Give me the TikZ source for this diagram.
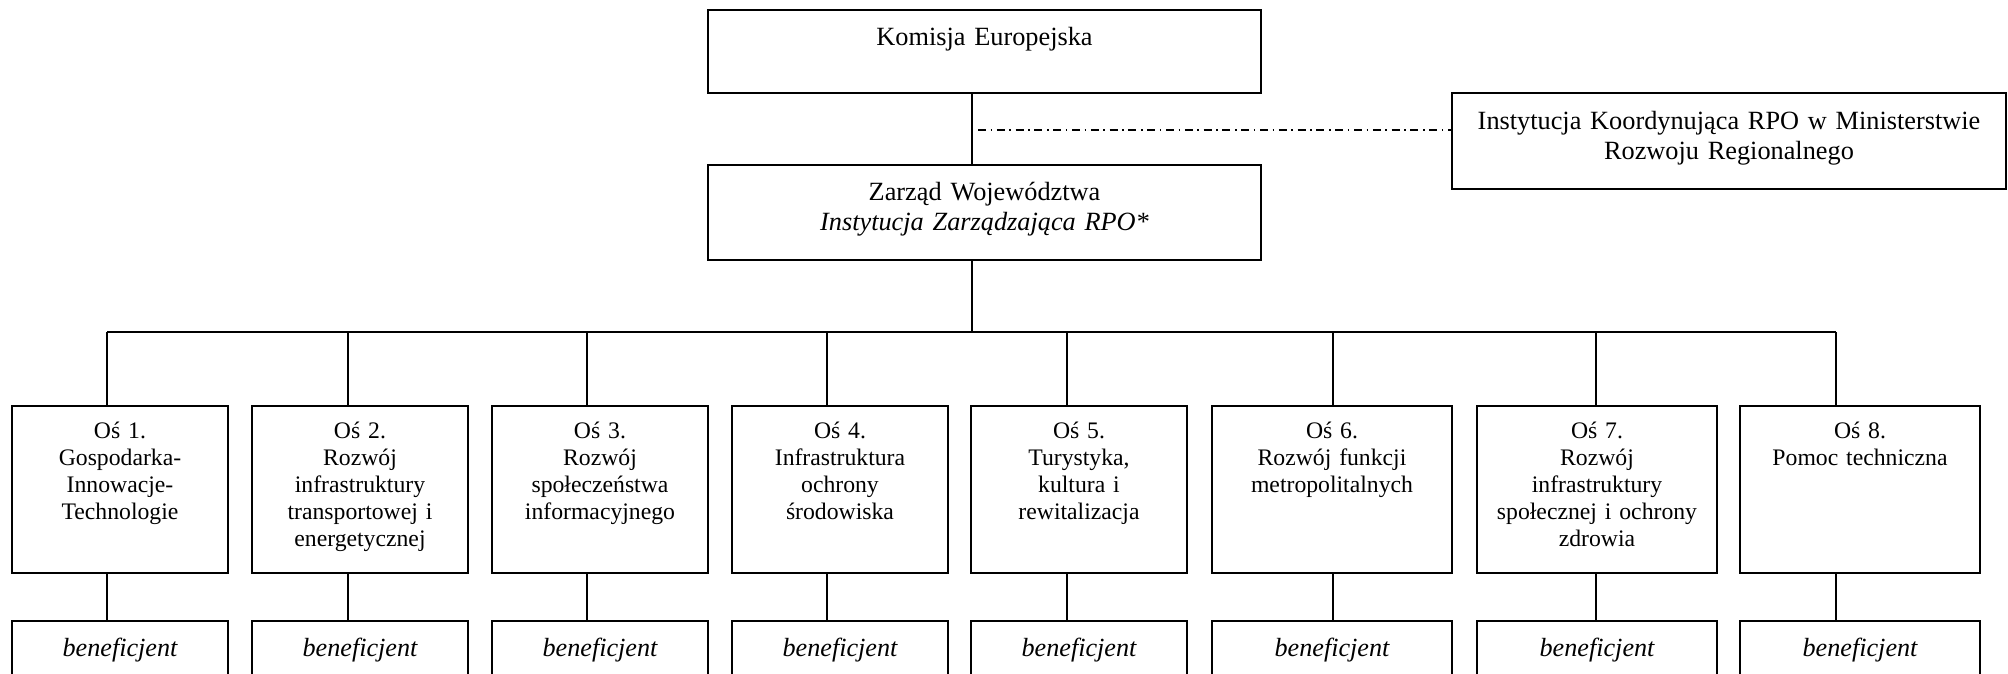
\documentclass[tikz,border=0pt]{standalone}
\usepackage{fontspec}
\setmainfont{Liberation Serif}
\tikzset{
  box/.style={draw, rectangle, line width=1.2pt, inner sep=0pt, anchor=north, align=center},
  topbox/.style={box, font=\fontsize{13.15}{15.4}\selectfont, text width=270pt},
  osbox/.style={box, font=\fontsize{11.85}{13.5}\selectfont, text width=104pt, text height=16pt, text depth=67.5pt},
  benbox/.style={box, font=\fontsize{13.1}{15.4}\selectfont\itshape, text height=17.5pt, text depth=27.5pt},
  linkline/.style={line width=0.9pt, dash pattern=on 4pt off 2.3pt on 0.8pt off 2.3pt}
}
\begin{document}
\begin{tikzpicture}[x=0.5pt, y=-0.5pt, line width=0.9pt]
\useasboundingbox (0,0) rectangle (2008,674);
\fill[white] (0,0) rectangle (2008,674);
\clip (0,0) rectangle (2008,674);

% top level
\node[topbox, minimum width=276.5pt, text height=17.5pt, text depth=24pt] (kom) at (984.5,9) {Komisja Europejska};
\node[topbox, minimum width=276.5pt, text height=17.5pt, text depth=30pt] (zarz) at (984.5,164)
  {Zarząd Województwa\\\textit{Instytucja Zarządzająca RPO*}};
\node[topbox, font=\fontsize{13.15}{15}\selectfont, minimum width=277pt, text height=18pt, text depth=30pt] (ikr) at (1729,92)
  {Instytucja Koordynująca RPO w Ministerstwie\\Rozwoju Regionalnego};

\coordinate (sp) at (972,332);
\coordinate (dd) at (978,130);
\draw (sp |- kom.south) -- (sp |- zarz.north);
\draw (sp |- zarz.south) -- (sp);
\draw[linkline] (dd) -- (dd -| ikr.west);

% axes and beneficiaries
\foreach \i/\cx/\dx/\w/\txt in {
  1/120/107/108pt/{Oś 1.\\Gospodarka-\\Innowacje-\\Technologie},
  2/360/348/108pt/{Oś 2.\\Rozwój\\infrastruktury\\transportowej i\\energetycznej},
  3/600/587/108pt/{Oś 3.\\Rozwój\\społeczeństwa\\informacyjnego},
  4/840/827/108pt/{Oś 4.\\Infrastruktura\\ochrony\\środowiska},
  5/1079/1067/108pt/{Oś 5.\\Turystyka,\\kultura i\\rewitalizacja},
  6/1332/1333/120pt/{Oś 6.\\Rozwój funkcji\\metropolitalnych},
  7/1597/1596/120pt/{Oś 7.\\Rozwój\\infrastruktury\\społecznej i ochrony\\zdrowia},
  8/1860/1836/120pt/{Oś 8.\\Pomoc techniczna}}
{
  \node[osbox, minimum width=\w] (o\i) at (\cx,405) {\txt};
  \node[benbox, minimum width=\w] (b\i) at (\cx,620) {beneficjent};
  \coordinate (d\i) at (\dx,332);
  \draw (d\i) -- (o\i.north -| d\i);
  \draw (o\i.south -| d\i) -- (b\i.north -| d\i);
}
\draw (d1) -- (d8);
\end{tikzpicture}
\end{document}
